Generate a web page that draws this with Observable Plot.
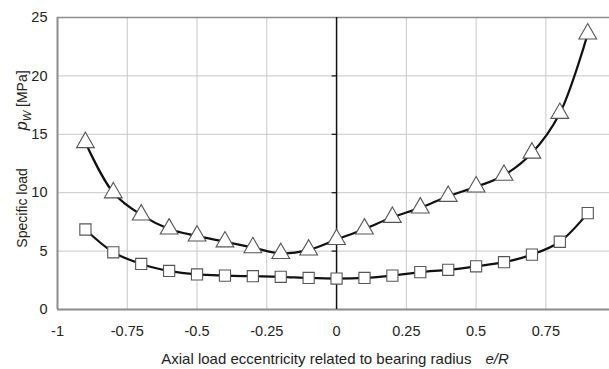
<!DOCTYPE html>
<html>
<head>
<meta charset="utf-8">
<script src="https://cdn.jsdelivr.net/npm/d3@7"></script>
<script src="https://cdn.jsdelivr.net/npm/@observablehq/plot@0.6"></script>
<style>
  html, body { margin: 0; padding: 0; background: #fff; }
  svg { display: block; }
</style>
</head>
<body>
<div id="chart"></div>
<script>
// Data
const eccentricity = [-0.9, -0.8, -0.7, -0.6, -0.5, -0.4, -0.3, -0.2, -0.1, 0, 0.1, 0.2, 0.3, 0.4, 0.5, 0.6, 0.7, 0.8, 0.9];
const seriesTriangle = [14.3, 10.0, 8.1, 6.9, 6.3, 5.8, 5.3, 4.8, 5.1, 6.0, 6.9, 7.9, 8.7, 9.7, 10.5, 11.5, 13.4, 16.8, 23.6];
const seriesSquare = [6.85, 4.9, 3.9, 3.3, 3.0, 2.9, 2.85, 2.8, 2.7, 2.65, 2.7, 2.9, 3.2, 3.4, 3.7, 4.05, 4.7, 5.8, 8.25];
const xTicks = [-1, -0.75, -0.5, -0.25, 0, 0.25, 0.5, 0.75];
const yTicks = [0, 5, 10, 15, 20, 25];
const xLabel = "Axial load eccentricity related to bearing radius";
const xLabelVar = "e/R";
const yLabel = "Specific load";

const tri = eccentricity.map((x, i) => ({x, y: seriesTriangle[i]}));
const sq = eccentricity.map((x, i) => ({x, y: seriesSquare[i]}));

const font = "Liberation Sans, Arial, sans-serif";

const plot = Plot.plot({
  width: 609,
  height: 369,
  marginLeft: 57,
  marginTop: 17,
  marginBottom: 60,
  marginRight: 0,
  style: {fontFamily: font, fontSize: "14px", color: "#222", background: "#fff"},
  x: {domain: [-1, 0.978], label: null},
  y: {domain: [0, 25], label: null},
  marks: [
    Plot.ruleX(xTicks.filter(d => d !== 0 && d !== -1), {stroke: "#c8c8c8", strokeWidth: 1}),
    Plot.ruleY(yTicks.filter(d => d !== 0 && d !== 25), {stroke: "#c8c8c8", strokeWidth: 1}),
    Plot.ruleY([25], {stroke: "#8c8c8c", strokeWidth: 1.5}),
    Plot.ruleX([-1], {stroke: "#8c8c8c", strokeWidth: 2}),
    Plot.ruleY([0], {stroke: "#8c8c8c", strokeWidth: 2}),
    Plot.ruleX([0], {stroke: "#111", strokeWidth: 1.5}),
    Plot.ruleY(yTicks.filter(d => d !== 0 && d !== 25), {x1: -0.016, x2: 0, stroke: "#111", strokeWidth: 1.2}),
    Plot.line(tri, {x: "x", y: "y", curve: "catmull-rom", stroke: "#111", strokeWidth: 2.2}),
    Plot.line(sq, {x: "x", y: "y", curve: "catmull-rom", stroke: "#111", strokeWidth: 2.2}),
    Plot.dot(tri, {x: "x", y: "y", symbol: "triangle", r: 6.6, fill: "#fff", stroke: "#555", strokeWidth: 1.1}),
    Plot.dot(sq, {x: "x", y: "y", symbol: "square", r: 6.3, fill: "#fff", stroke: "#555", strokeWidth: 1.1}),
    Plot.axisX({ticks: xTicks, tickFormat: d => String(d), tickSize: 0, tickPadding: 16, fontSize: 14.5, label: null}),
    Plot.axisY({ticks: yTicks, tickFormat: d => String(d), tickSize: 0, tickPadding: 10, fontSize: 14.5, label: null})
  ]
});

const svg = d3.select(plot);

// X axis title
const xt = svg.append("text")
  .attr("x", 335).attr("y", 364)
  .attr("text-anchor", "middle")
  .attr("font-family", font).attr("font-size", 15).attr("fill", "#222");
xt.append("tspan").text(xLabel);
xt.append("tspan").attr("dx", 14).attr("font-style", "italic").text(xLabelVar);

// Y axis title (rotated)
const yt = svg.append("text")
  .attr("transform", "translate(27,159) rotate(-90)")
  .attr("text-anchor", "middle")
  .attr("font-family", font).attr("font-size", 14).attr("fill", "#222");
yt.append("tspan").text(yLabel);
yt.append("tspan").attr("dx", 38).attr("font-style", "italic").attr("font-size", 16).text("p");
yt.append("tspan").attr("dy", 4).attr("font-style", "italic").attr("font-size", 11).text("W");
yt.append("tspan").attr("dy", -4).attr("dx", 4).text("[MPa]");

document.getElementById("chart").appendChild(plot);
</script>
</body>
</html>
